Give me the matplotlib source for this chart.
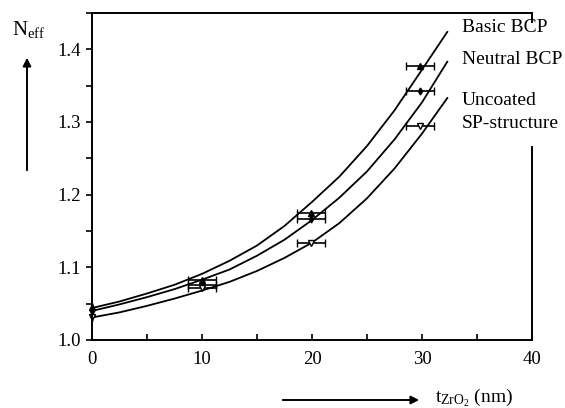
import matplotlib
matplotlib.use("Agg")
import matplotlib.pyplot as plt
from matplotlib.ticker import MultipleLocator

plt.rcParams['font.family'] = 'Liberation Serif'
plt.rcParams['mathtext.fontset'] = 'custom'
plt.rcParams['mathtext.rm'] = 'Liberation Serif'
plt.rcParams['mathtext.it'] = 'Liberation Serif'

### Fitted curves
curve_x = [0, 2.5, 5, 7.5, 10, 12.5, 15, 17.5, 20, 22.5, 25, 27.5, 30, 32.3]
basic_curve = [1.044, 1.053, 1.064, 1.076, 1.091, 1.109, 1.130, 1.157, 1.190,
               1.225, 1.267, 1.316, 1.372, 1.424]
neutral_curve = [1.040, 1.049, 1.059, 1.070, 1.083, 1.097, 1.116, 1.138, 1.165,
                 1.196, 1.232, 1.276, 1.327, 1.383]
uncoated_curve = [1.031, 1.038, 1.047, 1.057, 1.068, 1.080, 1.095, 1.113, 1.134,
                  1.161, 1.195, 1.236, 1.284, 1.333]

### Measured points
meas_x = [0, 10, 19.9, 29.8]
basic_meas = [1.045, 1.083, 1.175, 1.377]
neutral_meas = [1.040, 1.076, 1.166, 1.343]
uncoated_meas = [1.031, 1.071, 1.133, 1.295]
x_err = [0, 1.3, 1.3, 1.3]

labels = ['Basic BCP', 'Neutral BCP', 'Uncoated\nSP-structure']

fig = plt.figure(figsize=(5.65, 4.08), dpi=100)
ax = fig.add_axes([92 / 565, 68 / 408, 440 / 565, 327 / 408])

for yc in (basic_curve, neutral_curve, uncoated_curve):
    ax.plot(curve_x, yc, color='black', lw=1.3, clip_on=False)

ax.errorbar(meas_x, basic_meas, xerr=x_err, fmt='^', ms=4, color='black',
            elinewidth=1.2, capsize=3, clip_on=False)
ax.errorbar(meas_x, neutral_meas, xerr=x_err, fmt='d', ms=3.5, color='black',
            elinewidth=1.2, capsize=3, clip_on=False)
ax.errorbar(meas_x, uncoated_meas, xerr=x_err, fmt='v', ms=4, mfc='white',
            color='black', elinewidth=1.2, capsize=3, clip_on=False)

ax.set_xlim(0, 40)
ax.set_ylim(1.0, 1.45)
ax.xaxis.set_major_locator(MultipleLocator(10))
ax.xaxis.set_minor_locator(MultipleLocator(5))
ax.yaxis.set_major_locator(MultipleLocator(0.1))
ax.yaxis.set_minor_locator(MultipleLocator(0.05))
ax.yaxis.set_major_formatter(matplotlib.ticker.FormatStrFormatter('%.1f'))
ax.tick_params(axis='x', which='both', direction='in', length=4, width=1.2,
               labelsize=13.5, pad=8)
ax.tick_params(axis='y', which='both', direction='out', length=4, width=1.2,
               labelsize=13.5, pad=4)

for s in ax.spines.values():
    s.set_linewidth(1.4)
ax.spines['right'].set_bounds(1.0, 1.265)
ax.plot([1.0, 1.0], [1.45, 1.437], transform=ax.get_yaxis_transform(),
        color='black', lw=1.4, clip_on=False)

### Curve labels
fig.text(462 / 565, 1 - 27 / 408, labels[0], fontsize=14, va='center')
fig.text(462 / 565, 1 - 59 / 408, labels[1], fontsize=14, va='center')
fig.text(462 / 565, 1 - 112 / 408, labels[2], fontsize=14, va='center',
         linespacing=1.45)

### Axis labels with arrows
fig.text(12 / 565, 1 - 30 / 408, r'$\mathrm{N_{eff}}$', fontsize=15, va='center')
fig.add_artist(matplotlib.patches.FancyArrowPatch(
    (27 / 565, 1 - 173 / 408), (27 / 565, 1 - 55 / 408),
    transform=fig.transFigure, arrowstyle='-|>', mutation_scale=12,
    color='black', lw=1.4))
fig.add_artist(matplotlib.patches.FancyArrowPatch(
    (280 / 565, 1 - 400 / 408), (422 / 565, 1 - 400 / 408),
    transform=fig.transFigure, arrowstyle='-|>', mutation_scale=12,
    color='black', lw=1.4))
fig.text(435 / 565, 1 - 398 / 408, r'$\mathrm{t_{ZrO_2}}$ (nm)', fontsize=14,
         va='center')

fig.savefig('out.png', dpi=100)
